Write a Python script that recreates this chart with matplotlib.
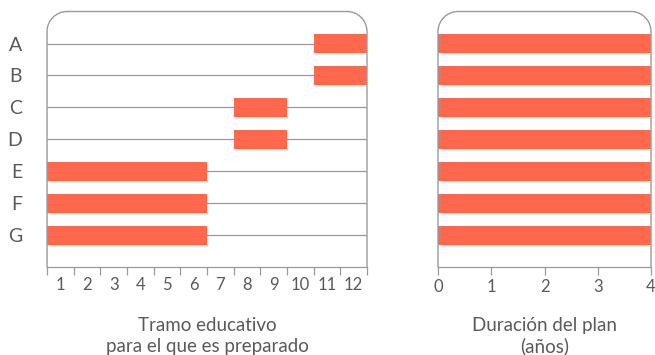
import matplotlib
matplotlib.use("Agg")
import matplotlib.pyplot as plt
from matplotlib.path import Path
from matplotlib.patches import PathPatch

plt.rcParams['font.family'] = ['Lato', 'DejaVu Sans']

# data
planes = ["A", "B", "C", "D", "E", "F", "G"]
grado_inicio = [11, 11, 8, 8, 1, 1, 1]
grado_fin = [12, 12, 9, 9, 6, 6, 6]
duracion = [4, 4, 4, 4, 4, 4, 4]
grados = [str(g) for g in range(1, 13)]
anios = [0, 1, 2, 3, 4]

color_barra = "#FF684C"
gris = "#9a9a9a"
texto = "#5a5a5a"


def marco_redondeado(ax, rx_px=20, ry_px=20):
    """Left, top and right frame with rounded top corners."""
    bbox = ax.get_position()
    fig = ax.figure
    w = bbox.width * fig.get_figwidth() * fig.dpi
    h = bbox.height * fig.get_figheight() * fig.dpi
    rx = rx_px / w
    ry = ry_px / h
    k = 0.55
    verts = [(0, 0), (0, 1 - ry),
             (0, 1 - ry + k * ry), (rx - k * rx, 1), (rx, 1),
             (1 - rx, 1),
             (1 - rx + k * rx, 1), (1, 1 - ry + k * ry), (1, 1 - ry),
             (1, 0)]
    codes = [Path.MOVETO, Path.LINETO,
             Path.CURVE4, Path.CURVE4, Path.CURVE4,
             Path.LINETO,
             Path.CURVE4, Path.CURVE4, Path.CURVE4,
             Path.LINETO]
    patch = PathPatch(Path(verts, codes), transform=ax.transAxes,
                      facecolor="none", edgecolor=gris, lw=1.0,
                      clip_on=False, zorder=5)
    ax.add_patch(patch)


fig = plt.figure(figsize=(6.55, 3.55), dpi=100)
ax1 = fig.add_axes([0.0718, 0.2465, 0.4885, 0.7211])
ax2 = fig.add_axes([0.6687, 0.2465, 0.3252, 0.7211])

filas = list(range(len(planes)))

# left panel: grade range
for y in filas:
    ax1.axhline(y, color=gris, lw=0.9, zorder=1)
izq = [g0 - 1 for g0 in grado_inicio]
anchos = [g1 - g0 + 1 for g0, g1 in zip(grado_inicio, grado_fin)]
ax1.barh(filas, anchos, left=izq, height=0.57, color=color_barra, zorder=2)
ax1.set_xlim(0, 12)
ax1.set_ylim(7, -1)
ax1.set_yticks(filas)
ax1.set_yticklabels(planes)
ax1.tick_params(axis="y", length=0, pad=18, labelsize=14, labelcolor=texto)
ax1.set_xticks(range(0, 13))
ax1.set_xticklabels([])
ax1.set_xticks([i + 0.5 for i in range(12)], minor=True)
ax1.set_xticklabels(grados, minor=True)
ax1.tick_params(axis="x", which="major", length=6, color=gris, width=0.9)
ax1.tick_params(axis="x", which="minor", length=0, pad=7, labelsize=12,
                labelcolor=texto)

# right panel: duration
for y in filas:
    ax2.axhline(y, color=gris, lw=0.9, zorder=1)
ax2.barh(filas, duracion, height=0.57, color=color_barra, zorder=2)
ax2.set_xlim(0, 4)
ax2.set_ylim(7, -1)
ax2.set_yticks([])
ax2.set_xticks(anios)
ax2.tick_params(axis="x", length=6, color=gris, width=0.9, pad=2,
                labelsize=12, labelcolor=texto)

for ax in (ax1, ax2):
    for lado in ("top", "left", "right"):
        ax.spines[lado].set_visible(False)
    ax.spines["bottom"].set_color(gris)
    ax.spines["bottom"].set_linewidth(0.9)
    marco_redondeado(ax)

fig.text(207 / 655, 1 - 336 / 355, "Tramo educativo\npara el que es preparado",
         ha="center", va="center", fontsize=13.5, color=texto, linespacing=1.25)
fig.text(545 / 655, 1 - 336 / 355, "Duración del plan\n(años)",
         ha="center", va="center", fontsize=13.5, color=texto, linespacing=1.25)

fig.savefig("out.png", dpi=100)
